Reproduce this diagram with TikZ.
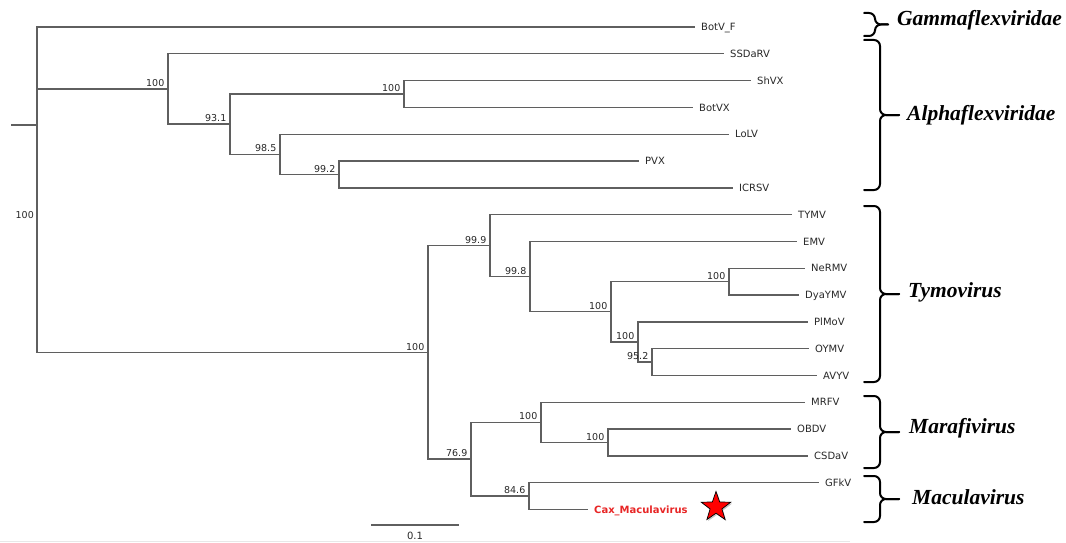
\documentclass[tikz,border=0pt]{standalone}
\usepackage{fontspec}
\setmainfont{Liberation Serif}
\newfontfamily\tipfont{DejaVu Sans}
\usetikzlibrary{shapes.geometric,shadows,calc}

\definecolor{branchgray}{RGB}{95,95,95}
\definecolor{labelgray}{RGB}{40,40,40}
\definecolor{caxred}{RGB}{232,38,38}

\begin{document}
\begin{tikzpicture}[x=1pt,y=-1pt,
  branch/.style={draw=branchgray, line width=1.4pt},
  tip/.style={font=\tipfont\fontsize{10}{12}\selectfont, text=labelgray,
    anchor=west, inner xsep=6pt, inner ysep=0pt, text height=7.3pt, text depth=0pt},
  boot/.style={font=\tipfont\fontsize{9.5}{11}\selectfont, text=labelgray,
    anchor=south east, inner sep=0pt, xshift=-3.5pt, yshift=2pt},
  grp/.style={font=\fontsize{21.5}{24}\selectfont\bfseries\itshape,
    anchor=west, inner sep=0pt, text height=14pt, text depth=4pt},
  grpbrace/.style={draw=black, line width=2pt, rounded corners=6pt, line cap=round},
]
\useasboundingbox (0,0) rectangle (1066,543);
\fill[white] (0,0) rectangle (1066,543);

% ---------- leaves ----------
\node[tip] (botvf)  at (695,27.0)  {BotV\_F};
\node[tip] (ssdarv) at (724,53.8)  {SSDaRV};
\node[tip] (shvx)   at (751,80.6)  {ShVX};
\node[tip] (botvx)  at (693,107.4) {BotVX};
\node[tip] (lolv)   at (729,134.2) {LoLV};
\node[tip] (pvx)    at (639,161.0) {PVX};
\node[tip] (icrsv)  at (733,187.8) {ICRSV};
\node[tip] (tymv)   at (792,214.6) {TYMV};
\node[tip] (emv)    at (797,241.4) {EMV};
\node[tip] (nermv)  at (805,268.2) {NeRMV};
\node[tip] (dyaymv) at (799,295.0) {DyaYMV};
\node[tip] (plmov)  at (808,321.8) {PlMoV};
\node[tip] (oymv)   at (809,348.6) {OYMV};
\node[tip] (avyv)   at (817,375.4) {AVYV};
\node[tip] (mrfv)   at (805,402.2) {MRFV};
\node[tip] (obdv)   at (791,429.0) {OBDV};
\node[tip] (csdav)  at (808,455.8) {CSDaV};
\node[tip] (gfkv)   at (819,482.6) {GFkV};
\node[tip, text=caxred, font=\tipfont\bfseries\fontsize{10}{12}\selectfont]
           (cax)    at (588,509.4) {Cax\_Maculavirus};

% ---------- internal nodes ----------
\coordinate (stub) at (11,125);
\coordinate (R)  at (37,125);
\coordinate (A1) at (168,89.0);
\coordinate (A2) at (230,124.15);
\coordinate (A3) at (404,94.0);
\coordinate (A4) at (280,154.3);
\coordinate (A5) at (339,174.4);
\coordinate (B1) at (428,352.4);
\coordinate (T1) at (490,245.6);
\coordinate (T2) at (530,276.6);
\coordinate (T3) at (611,311.75);
\coordinate (T4) at (638,341.9);
\coordinate (T5) at (729,281.6);
\coordinate (T6) at (652,362.0);
\coordinate (L2) at (471,459.15);
\coordinate (M1) at (541,422.3);
\coordinate (M2) at (608,442.4);
\coordinate (C1) at (529,496.0);

% ---------- branches ----------
\draw[branch] (stub) -- (R);
\draw[branch] (R) |- (botvf.west);
\draw[branch] (R) |- (A1);
\draw[branch] (R) |- (B1);
\draw[branch] (A1) |- (ssdarv.west);
\draw[branch] (A1) |- (A2);
\draw[branch] (A2) |- (A3);
\draw[branch] (A2) |- (A4);
\draw[branch] (A3) |- (shvx.west);
\draw[branch] (A3) |- (botvx.west);
\draw[branch] (A4) |- (lolv.west);
\draw[branch] (A4) |- (A5);
\draw[branch] (A5) |- (pvx.west);
\draw[branch] (A5) |- (icrsv.west);
\draw[branch] (B1) |- (T1);
\draw[branch] (B1) |- (L2);
\draw[branch] (T1) |- (tymv.west);
\draw[branch] (T1) |- (T2);
\draw[branch] (T2) |- (emv.west);
\draw[branch] (T2) |- (T3);
\draw[branch] (T3) |- (T5);
\draw[branch] (T3) |- (T4);
\draw[branch] (T5) |- (nermv.west);
\draw[branch] (T5) |- (dyaymv.west);
\draw[branch] (T4) |- (plmov.west);
\draw[branch] (T4) |- (T6);
\draw[branch] (T6) |- (oymv.west);
\draw[branch] (T6) |- (avyv.west);
\draw[branch] (L2) |- (M1);
\draw[branch] (L2) |- (C1);
\draw[branch] (M1) |- (mrfv.west);
\draw[branch] (M1) |- (M2);
\draw[branch] (M2) |- (obdv.west);
\draw[branch] (M2) |- (csdav.west);
\draw[branch] (C1) |- (gfkv.west);
\draw[branch] (C1) |- (cax.west);

% ---------- bootstrap support ----------
\node[font=\tipfont\fontsize{9.5}{11}\selectfont, text=labelgray, anchor=east, inner sep=0pt]
  (bR) at (34,215) {100};
\node[boot] (bA1) at (A1) {100};
\node[boot] (bA2) at (A2) {93.1};
\node[boot] (bA3) at (A3) {100};
\node[boot] (bA4) at (A4) {98.5};
\node[boot] (bA5) at (A5) {99.2};
\node[boot] (bB1) at (B1) {100};
\node[boot] (bT1) at (T1) {99.9};
\node[boot] (bT2) at (T2) {99.8};
\node[boot] (bT3) at (T3) {100};
\node[boot] (bT4) at (T4) {100};
\node[boot] (bT5) at (T5) {100};
\node[boot] (bT6) at (T6) {95.2};
\node[boot] (bL2) at (L2) {76.9};
\node[boot] (bM1) at (M1) {100};
\node[boot] (bM2) at (M2) {100};
\node[boot] (bC1) at (C1) {84.6};

% ---------- marker star ----------
\node[star, star points=5, star point ratio=2.5, minimum size=31pt, inner sep=0pt,
  fill=red, draw=black, line width=0.7pt,
  drop shadow={opacity=0.45, shadow xshift=1.2pt, shadow yshift=-1.5pt}]
  (mark) at (716,507) {};

% ---------- scale bar ----------
\coordinate (sb0) at (371,525);
\coordinate (sb1) at (459,525);
\draw[branch] (sb0) -- (sb1);
\node[font=\tipfont\fontsize{10}{12}\selectfont, text=labelgray, inner sep=0pt]
  (sblabel) at (415,536) {0.1};

% ---------- group braces: top end, bottom end and tip ----------
\coordinate (g0) at (864,13);  \coordinate (g1) at (864,36);  \coordinate (gt) at (888,24.5);
\coordinate (a0) at (864,40);  \coordinate (a1) at (864,190); \coordinate (at) at (899,115);
\coordinate (t0) at (864,206); \coordinate (t1) at (864,382); \coordinate (tt) at (899,294);
\coordinate (m0) at (864,396); \coordinate (m1) at (864,468); \coordinate (mt) at (899,432);
\coordinate (c0) at (864,476); \coordinate (c1) at (864,522); \coordinate (ct) at (899,499);
\draw[grpbrace] (g0) -- ++(11,0) |- (gt);
\draw[grpbrace] (g1) -- ++(11,0) |- (gt);
\draw[grpbrace] (a0) -- ++(16,0) |- (at);
\draw[grpbrace] (a1) -- ++(16,0) |- (at);
\draw[grpbrace] (t0) -- ++(16,0) |- (tt);
\draw[grpbrace] (t1) -- ++(16,0) |- (tt);
\draw[grpbrace] (m0) -- ++(16,0) |- (mt);
\draw[grpbrace] (m1) -- ++(16,0) |- (mt);
\draw[grpbrace] (c0) -- ++(16,0) |- (ct);
\draw[grpbrace] (c1) -- ++(16,0) |- (ct);
\node[grp] (gamma)  at (897,21)  {Gammaflexviridae};
\node[grp] (alpha)  at (907,115) {Alphaflexviridae};
\node[grp] (tymo)   at (908,292) {Tymovirus};
\node[grp] (marafi) at (909,428) {Marafivirus};
\node[grp] (macula) at (912,499) {Maculavirus};

% faint lower edge
\draw[gray!18, line width=1pt] (0,541) -- (850,541);
\end{tikzpicture}
\end{document}
